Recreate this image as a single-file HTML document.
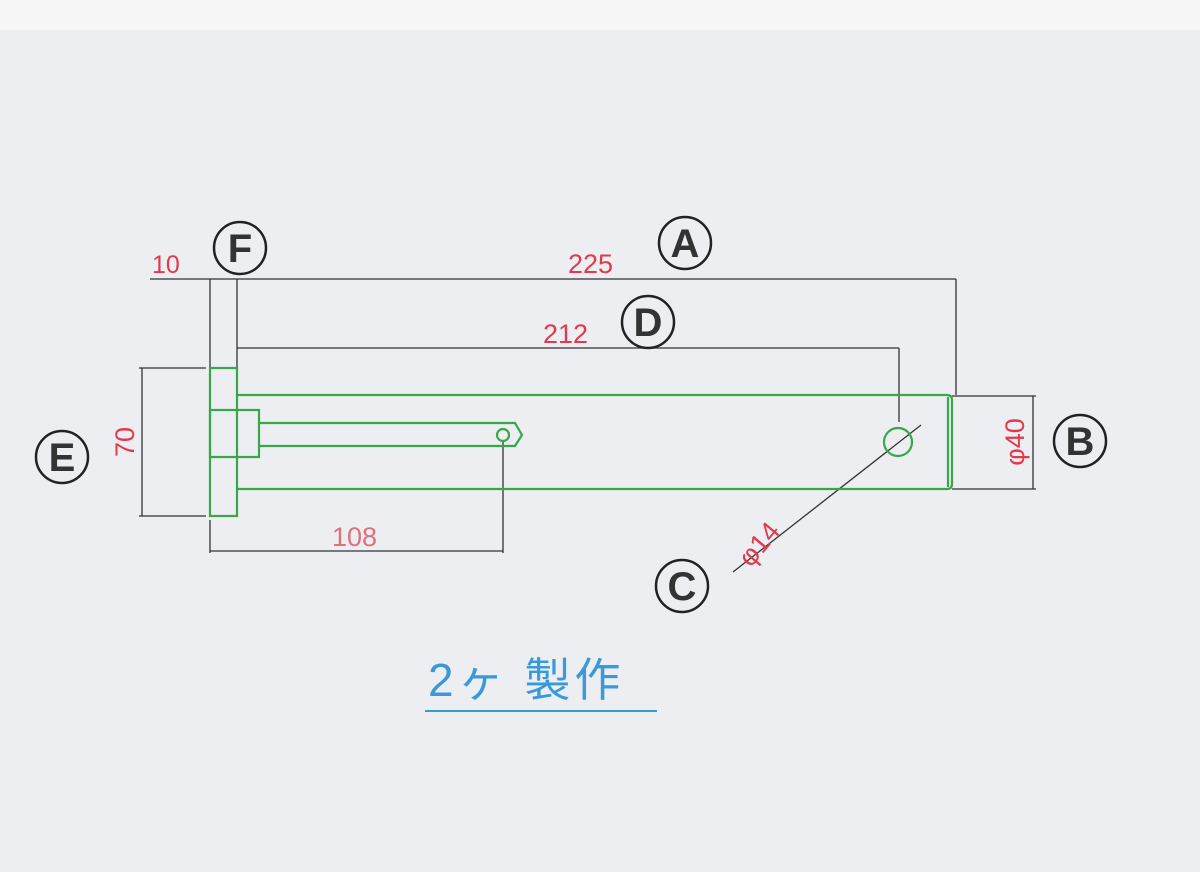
<!DOCTYPE html>
<html><head><meta charset="utf-8"><style>
html,body{margin:0;padding:0;background:#edeef2;}
svg{display:block}
</style></head><body>
<svg width="1200" height="872" viewBox="0 0 1200 872" xmlns="http://www.w3.org/2000/svg">
<rect x="0" y="0" width="1200" height="872" fill="#eceef2"/>
<rect x="0" y="0" width="1200" height="30" fill="#f7f7f8"/>
<g stroke="#333" stroke-width="1.3" fill="none">
<line x1="150" y1="279" x2="956" y2="279"/>
<line x1="237" y1="348" x2="899" y2="348"/>
<line x1="210" y1="279" x2="210" y2="368"/>
<line x1="237" y1="279" x2="237" y2="368"/>
<line x1="956" y1="279" x2="956" y2="395"/>
<line x1="899" y1="348" x2="899" y2="422"/>
<line x1="139" y1="368" x2="206" y2="368"/>
<line x1="139" y1="516" x2="206" y2="516"/>
<line x1="142" y1="368" x2="142" y2="516"/>
<line x1="210" y1="520" x2="210" y2="553"/>
<line x1="503" y1="440" x2="503" y2="553"/>
<line x1="210" y1="551" x2="503" y2="551"/>
<line x1="952" y1="396" x2="1036" y2="396"/>
<line x1="952" y1="489" x2="1036" y2="489"/>
<line x1="1033" y1="396" x2="1033" y2="489"/>
<line x1="921" y1="425" x2="733" y2="572"/>
</g>
<g stroke="#3aa64a" stroke-width="2.2" fill="none">
<rect x="210" y="368" width="27" height="148"/>
<rect x="210" y="410" width="49" height="47"/>
<path d="M237 395 H947 Q952 395 952 400 V484 Q952 489 947 489 H237"/>
<line x1="948" y1="397" x2="948" y2="487"/>
<path d="M259 423 H515 L522 435 L515 446 H259"/>
<circle cx="503" cy="435" r="6"/>
<circle cx="898" cy="442" r="14"/>
</g>
<g font-family="Liberation Sans, sans-serif" fill="#e23a4a" font-size="27">
<text x="152" y="273" font-size="25">10</text>
<text x="568" y="273">225</text>
<text x="543" y="343">212</text>
<text x="332" y="546" fill="#e0707a">108</text>
<text transform="translate(134,442) rotate(-90)" text-anchor="middle">70</text>
<text transform="translate(1024,442) rotate(-90)" text-anchor="middle">φ40</text>
<text transform="translate(766,550) rotate(-50)" text-anchor="middle">φ14</text>
</g>
<g font-family="Liberation Sans, sans-serif" font-size="40" font-weight="bold" fill="#333" text-anchor="middle">
<g fill="none" stroke="#222" stroke-width="2.5">
<circle cx="685" cy="243" r="26"/><circle cx="240" cy="248" r="26"/>
<circle cx="648" cy="322" r="26"/><circle cx="62" cy="457" r="26"/>
<circle cx="1080" cy="441" r="26"/><circle cx="682" cy="586" r="26"/>
</g>
<text x="685" y="257">A</text><text x="240" y="262">F</text>
<text x="648" y="336">D</text><text x="62" y="471">E</text>
<text x="1080" y="455">B</text><text x="682" y="600">C</text>
</g>
<text x="428" y="696" font-family="Liberation Sans, 'Noto Sans CJK JP', sans-serif" font-size="46" letter-spacing="4" fill="#3a9ad8">2ヶ 製作</text>
<line x1="425" y1="711" x2="657" y2="711" stroke="#3a9ad8" stroke-width="2"/>
</svg>
</body></html>
